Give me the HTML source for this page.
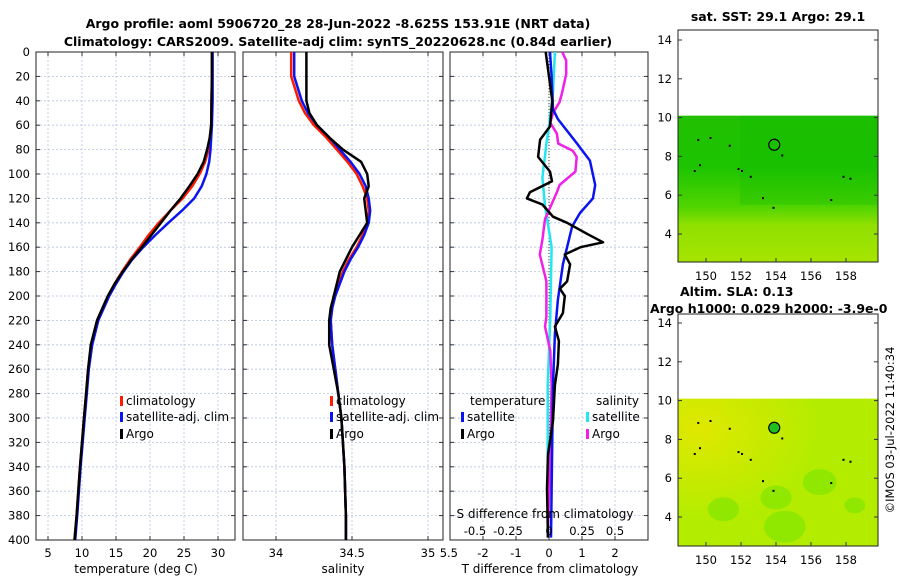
<!DOCTYPE html>
<html><head><meta charset="utf-8"><style>
body{margin:0;background:#fff}
svg{font-family:"DejaVu Sans","Liberation Sans",sans-serif}
</style></head><body>
<svg id="s" width="900" height="580" viewBox="0 0 900 580">
<defs>
<clipPath id="c1"><rect x="36" y="52" width="199" height="488"/></clipPath>
<clipPath id="c2"><rect x="243" y="52" width="200" height="488"/></clipPath>
<clipPath id="c3"><rect x="450" y="52" width="198" height="488"/></clipPath>
<clipPath id="clab"><rect x="440" y="540" width="20" height="30"/></clipPath>
<linearGradient id="sstg" x1="0" y1="0" x2="0" y2="1">
<stop offset="0" stop-color="#22c000"/><stop offset="0.35" stop-color="#1cc400"/><stop offset="0.62" stop-color="#50d400"/><stop offset="0.75" stop-color="#90e000"/><stop offset="1" stop-color="#a6e400"/></linearGradient>
<radialGradient id="slag" cx="0.1" cy="0.2" r="0.6"><stop offset="0" stop-color="#e0e800"/><stop offset="1" stop-color="#b4ec00"/></radialGradient>
</defs>
<text x="338" y="28" text-anchor="middle" font-size="12.5" font-weight="bold">Argo profile: aoml 5906720_28 28-Jun-2022 -8.625S 153.91E (NRT data)</text>
<text x="338" y="46" text-anchor="middle" font-size="12.5" font-weight="bold">Climatology: CARS2009. Satellite-adj clim: synTS_20220628.nc (0.84d earlier)</text>
<g id="g"></g>
</svg>
<script>
// ---- data ----
const depthT = [0,20,40,60,70,80,90,100,110,120,130,140,150,160,170,180,190,200,220,240,260,280,300,340,380,400];
const tempArgo = [29.1,29.1,29.05,29.0,28.8,28.4,27.9,27.0,25.8,24.5,23.0,21.6,20.2,18.8,17.3,16.0,14.8,13.8,12.2,11.3,10.9,10.6,10.3,9.7,9.2,8.9];
const tempClim = [29.1,29.1,29.05,29.0,28.8,28.6,28.1,27.3,26.2,24.8,23.0,21.3,19.8,18.5,17.1,15.9,14.8,13.9,12.3,11.4,10.9,10.6,10.3,9.7,9.2,8.9];
const tempSat = [29.2,29.2,29.2,29.1,29.0,28.9,28.7,28.3,27.6,26.5,24.7,22.7,20.8,19.0,17.4,16.1,15.0,14.0,12.4,11.5,11.0,10.7,10.4,9.8,9.3,9.0];
const depthS = [0,20,40,50,60,70,80,90,100,110,120,130,140,150,160,170,180,190,200,210,220,240,260,280,300,340,380,400];
const salArgo = [34.2,34.2,34.2,34.22,34.27,34.35,34.44,34.56,34.6,34.61,34.58,34.59,34.6,34.55,34.5,34.46,34.42,34.4,34.38,34.36,34.35,34.35,34.38,34.41,34.43,34.45,34.46,34.46];
const salClim = [34.1,34.1,34.15,34.19,34.25,34.33,34.4,34.47,34.53,34.57,34.6,34.61,34.6,34.57,34.53,34.48,34.44,34.41,34.38,34.37,34.36,34.37,34.39,34.41,34.43,34.45,34.46,34.46];
const salSat = [34.12,34.12,34.17,34.21,34.27,34.35,34.42,34.49,34.55,34.59,34.61,34.62,34.61,34.58,34.54,34.49,34.45,34.42,34.39,34.37,34.36,34.37,34.39,34.41,34.43,34.45,34.46,34.46];
const dDepthArgoT = [0,20,40,61,72,86,98,106,115,120,125,135,140,149,156,160,166,174,188,194,200,214,225,237,256,273,302,330,358,398];
const dTArgo = [-0.1,0,0.1,0.03,-0.27,-0.33,0.03,0.09,-0.58,-0.67,-0.2,0.12,0.55,1.15,1.64,0.95,0.48,0.64,0.55,0.33,0.48,0.42,0.18,0.3,0.27,0.18,0.12,-0.03,-0.06,-0.03];
const dDepthSatT = [0,20,47,55,75,89,109,120,132,143,160,174,203,231,273,398];
const dTSat = [0.03,0.08,0.12,0.27,0.85,1.24,1.4,1.33,0.94,0.7,0.55,0.42,0.27,0.18,0.12,0.06];
const dDepthArgoS = [0,7,18,33,41,50,58,67,75,81,86,98,109,115,137,154,166,188,217,225,245,273,330,398];
const dSArgo = [0.1,0.13,0.13,0.1,0.08,0.03,0.01,0.06,0.07,0.18,0.21,0.2,0.08,0.06,-0.03,-0.05,-0.07,-0.02,-0.02,-0.03,0.01,0.02,0.01,-0.01];
const dDepthSatS = [0,33,61,75,103,126,140,160,217,273,398];
const dSSat = [0.045,0.03,0.0,-0.02,-0.05,-0.03,-0.01,0.02,0.01,-0.01,-0.01];
const depthTicks = [0,20,40,60,80,100,120,140,160,180,200,220,240,260,280,300,320,340,360,380,400];
const tTicks = [5,10,15,20,25,30];
const sTicks = [34,34.5,35];
const dtTicks = [-2,-1,0,1,2];
const dsTicks = [-0.5,-0.25,0,0.25,0.5];
const lonTicks = [150,152,154,156,158];
const latTicks = [4,6,8,10,12,14];

// ---- axes ----
const yD = d => 52 + d*1.22;
const x1 = t => 48 + (t-5)*6.8;
const x2 = s => 276 + (s-34)*152;
const x3 = t => 549 + t*33;
const x3s = s => 549 + s*132;
const mx = lon => 706 + (lon-150)*17.5;
const my1 = lat => 40 + (14-lat)*19.4;
const my2 = lat => 323 + (14-lat)*19.4;

const NS="http://www.w3.org/2000/svg", G=document.getElementById('g');
function el(tag, attrs, parent){const e=document.createElementNS(NS,tag);for(const k in attrs)e.setAttribute(k,attrs[k]);(parent||G).appendChild(e);return e;}
function txt(x,y,s,fs,anchor,extra){const t=el('text',Object.assign({x:x,y:y,'font-size':fs,'text-anchor':anchor||'middle'},extra||{}));t.textContent=s;return t;}

function panel(x0,w,xs,xt,name){
  const g=el('g',{});
  
  
  depthTicks.forEach(d=>{el('line',{x1:x0,x2:x0+w,y1:yD(d),y2:yD(d),stroke:'#b4c4e0','stroke-width':0.8,'stroke-dasharray':'2,2'},g);});
  xt.forEach(v=>{const x=xs(v); if(x>x0&&x<x0+w) el('line',{x1:x,x2:x,y1:52,y2:540,stroke:'#b4c4e0','stroke-width':0.8,'stroke-dasharray':'2,2'},g);});
  depthTicks.forEach(d=>{el('line',{x1:x0,x2:x0+4,y1:yD(d),y2:yD(d),stroke:'#333'},g);el('line',{x1:x0+w-4,x2:x0+w,y1:yD(d),y2:yD(d),stroke:'#333'},g);});
  xt.forEach(v=>{const x=xs(v); if(x>=x0&&x<=x0+w){el('line',{x1:x,x2:x,y1:536,y2:540,stroke:'#333'},g);el('line',{x1:x,x2:x,y1:52,y2:56,stroke:'#333'},g);}});
  const f=el('rect',{x:x0,y:52,width:w,height:488,fill:'none',stroke:'#222','stroke-width':1});
  
  
}
function line(xs,depths,vals,color,name,clip,w){
  const p=el('polyline',{points:depths.map((d,i)=>xs(vals[i]).toFixed(1)+','+yD(d).toFixed(1)).join(' '),fill:'none',stroke:color,'stroke-width':w||2.5,'clip-path':'url(#'+clip+')','stroke-linejoin':'round'});
  
  
}
function legend(x,y,label,color,name){
  if(color){el('rect',{x:x,y:y-9,width:3,height:10,fill:color});}
  const t=txt(x+6,y,label,12,'start');
  
  
}

// panel 1
panel(36,199,x1,tTicks,'temperature-panel');
depthTicks.forEach(d=>{const t=txt(30,yD(d)+4,String(d),11.5,'end');});
tTicks.forEach(v=>{const t=txt(x1(v),557,String(v),11.5);});
let at=txt(136,573,'temperature (deg C)',12);
line(x1,depthT,tempClim,'#ff1a00','temperature-climatology-line','c1');
line(x1,depthT,tempSat,'#0a14f0','temperature-satellite-line','c1');
line(x1,depthT,tempArgo,'#000','temperature-argo-line','c1');
legend(120,405,'climatology','#ff1a00','legend-climatology');
legend(120,421,'satellite-adj. clim','#0a14f0','legend-satellite');
legend(120,438,'Argo','#000','legend-argo');

// panel 2
panel(243,200,x2,sTicks,'salinity-panel');
sTicks.forEach(v=>{const t=txt(x2(v),557,String(v),11.5);});
at=txt(343,573,'salinity',12);
line(x2,depthS,salClim,'#ff1a00','salinity-climatology-line','c2');
line(x2,depthS,salSat,'#0a14f0','salinity-satellite-line','c2');
line(x2,depthS,salArgo,'#000','salinity-argo-line','c2');
legend(330,405,'climatology','#ff1a00','legend-climatology-2');
legend(330,421,'satellite-adj. clim','#0a14f0','legend-satellite-2');
legend(330,438,'Argo','#000','legend-argo-2');

// panel 3 (white background covers overflowing legend text of panel 2)
el('rect',{x:444,y:52,width:230,height:528,fill:'#fff'});
let lab=txt(458,557,'35.5',11.5,'end',{'clip-path':'url(#clab)'});


panel(450,198,x3,dtTicks,'difference-panel');
dtTicks.forEach(v=>{const t=txt(x3(v),557,String(v),11.5);});
at=txt(550,573,'T difference from climatology',12);
el('line',{x1:549,x2:549,y1:52,y2:540,stroke:'#444','stroke-width':1,'stroke-dasharray':'1,2'});
line(x3s,dDepthSatS,dSSat,'#22e6f0','salinity-satellite-diff-line','c3');
line(x3s,dDepthArgoS,dSArgo,'#f020e8','salinity-argo-diff-line','c3');
line(x3,dDepthSatT,dTSat,'#0a14f0','temperature-satellite-diff-line','c3');
line(x3,dDepthArgoT,dTArgo,'#000','temperature-argo-diff-line','c3');
legend(464,405,'temperature',null,'legend-temperature-header');
legend(461,421,'satellite','#0a14f0','legend-temp-satellite');
legend(461,438,'Argo','#000','legend-temp-argo');
legend(590,405,'salinity',null,'legend-salinity-header');
legend(586,421,'satellite','#22e6f0','legend-sal-satellite');
legend(586,438,'Argo','#f020e8','legend-sal-argo');
at=txt(545,518,'S difference from climatology',12);
dsTicks.forEach(v=>{const t=txt(x3s(v)-(v<0?8:0),535,String(v),11.5);});

// maps
function map(y0,my,fill,name,title,filled){
  el('rect',{x:678,y:y0,width:200,height:232,fill:'#fff'});
  const top=my(10.1);
  const r=el('rect',{x:678,y:top,width:200,height:y0+232-top,fill:fill});
  
  
  if(filled){
    [[151,4.4,12],[154,5,12],[156.5,5.8,13],[158.5,4.6,8],[154.5,3.5,16]].forEach(b=>{el('ellipse',{cx:mx(b[0]),cy:my(b[1]),rx:b[2]*1.3,ry:b[2],fill:'#78e400',opacity:0.6});});
  } else {
    el('rect',{x:740,y:top,width:138,height:my(5.5)-top,fill:'#12b800',opacity:0.3});
  }
  [[149.5,8.9],[150.2,9.0],[151.3,8.6],[151.8,7.4],[152,7.3],[152.5,7.0],[153.2,5.9],[153.8,5.4],[154.3,8.1],[157.1,5.8],[157.8,7.0],[158.2,6.9],[149.3,7.3],[149.6,7.6]].forEach(p=>{el('rect',{x:mx(p[0]),y:my(p[1]),width:2,height:2,fill:'#000'});});
  el('circle',{cx:mx(153.9),cy:my(8.6),r:5.5,fill:filled?'#20c020':'none',stroke:'#000','stroke-width':1.2});
  const f=el('rect',{x:678,y:y0,width:200,height:232,fill:'none',stroke:'#222'});
  
  
  latTicks.forEach(l=>{const y=my(l);el('line',{x1:678,x2:682,y1:y,y2:y,stroke:'#333'});el('line',{x1:874,x2:878,y1:y,y2:y,stroke:'#333'});const t=txt(672,y+4,String(l),11.5,'end');});
  lonTicks.forEach(l=>{const x=mx(l);el('line',{x1:x,x2:x,y1:y0+228,y2:y0+232,stroke:'#333'});const t=txt(x,y0+250,String(l),11.5);});
  title.forEach((s)=>{const t=txt(s[1],s[2],s[0],12.5,s[3]||'middle',{'font-weight':'bold'});});
}
map(30,my1,'url(#sstg)','sst-map',[['sat. SST: 29.1 Argo: 29.1',778,21]],false);
map(314,my2,'url(#slag)','sla-map',[['Altim. SLA: 0.13',680,296,'start'],['Argo h1000: 0.029 h2000: -3.9e-0',650,313,'start']],true);
const c=txt(0,0,'©IMOS 03-Jul-2022 11:40:34',11.5,'middle',{transform:'translate(894,430) rotate(-90)'});


</script>
</body></html>
